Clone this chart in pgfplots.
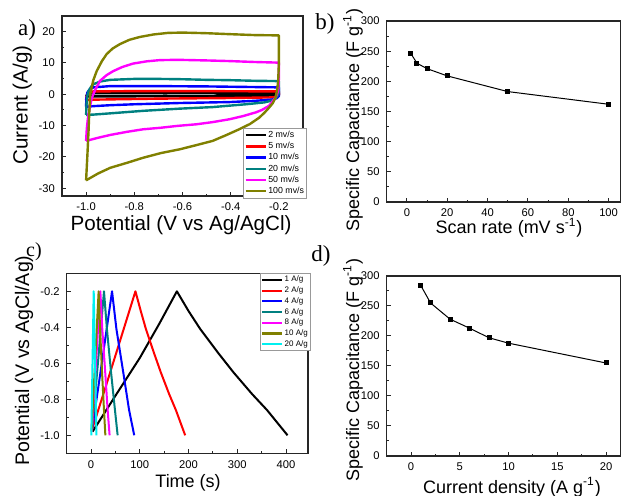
\documentclass[border=0pt]{standalone}
\usepackage{fontspec}
\setmainfont{Liberation Sans}
\newfontfamily\panelfont{Liberation Serif}
\usepackage{pgfplots}
\pgfplotsset{compat=1.18}

\definecolor{cvmag}{RGB}{255,0,255}
\definecolor{cvcyan}{RGB}{0,240,240}
\definecolor{cvteal}{RGB}{0,128,128}
\definecolor{cvolive}{RGB}{128,128,0}
\definecolor{cvred}{RGB}{255,0,0}
\definecolor{cvblue}{RGB}{0,0,255}

\pgfplotsset{
  panel/.style={
    scale only axis,
    axis line style={line width=0.6pt, black!85},
    tick align=inside,
    xtick pos=bottom, ytick pos=left,
    major tick length=2.2pt, minor tick length=1.2pt,
    every tick/.style={black!85, line width=0.5pt},
    minor x tick num=1, minor y tick num=1,
    ticklabel style={font=\fontsize{5.6}{6}\selectfont},
    /pgf/number format/assume math mode=true,
    label style={font=\fontsize{9}{10}\selectfont},
  },
  cap/.style={black, line width=0.5pt, mark=square*, mark size=1pt},
}

\begin{document}
\begin{tikzpicture}
\path[use as bounding box] (0,0) rectangle (310.5pt,248pt);

% ---------- a) CV curves
\begin{axis}[panel,
    at={(31pt,150pt)}, anchor=south west,
    width=120.5pt, height=90pt,
    xmin=-1.1, xmax=-0.1, ymin=-32.5, ymax=25,
    xtick={-1.0,-0.8,-0.6,-0.4,-0.2},
    ytick={-30,-20,-10,0,10,20},
    xticklabel style={/pgf/number format/.cd, fixed, fixed zerofill, precision=1},
    label style={font=\fontsize{10.3}{11}\selectfont},
    xlabel={Potential (V vs Ag/AgCl)},
    ylabel={Current (A/g)},
    xlabel style={at={(axis description cs:0.494,-0.16)}, anchor=center},
    ylabel style={at={(axis description cs:-0.165,0.506)}, anchor=center},
    legend style={at={(axis description cs:0.752,0.376)}, anchor=north west,
      font=\fontsize{4.4}{5}\selectfont, draw=black!40, line width=0.3pt,
      inner sep=0.5pt, row sep=0pt,
      nodes={text height=3.2pt, text depth=1pt, inner sep=0.7pt}},
    legend cell align=left,
    legend image code/.code={\draw[#1, line width=1.2pt] (0pt,0pt) -- (10pt,0pt);},
    every axis plot/.append style={line width=1.2pt, line join=round},
]
\addplot[black] coordinates {
(-1.0,-0.7) (-0.995,0) (-0.98,0.3) (-0.6,0.4) (-0.2,0.35) (-0.2,-0.2) (-0.23,-0.45)
(-0.6,-0.6) (-0.95,-0.7) (-1.0,-0.7)};
\addplot[cvred] coordinates {
(-1.0,-1.8) (-0.998,-0.5) (-0.99,0.5) (-0.97,0.9) (-0.8,1.0) (-0.5,1.0) (-0.2,0.9)
(-0.2,-0.3) (-0.22,-1.0) (-0.4,-1.2) (-0.7,-1.4) (-0.95,-1.7) (-1.0,-1.8)};
\addplot[cvblue] coordinates {
(-1.0,-4) (-0.999,-1.5) (-0.995,0.5) (-0.985,1.6) (-0.97,2.2) (-0.9,2.6) (-0.7,2.6)
(-0.5,2.5) (-0.3,2.3) (-0.2,2.2) (-0.2,-0.6) (-0.21,-1.3) (-0.228,-1.7) (-0.3,-2.1)
(-0.406,-2.5) (-0.612,-2.8) (-0.8,-3.2) (-0.9,-3.5) (-0.97,-3.8) (-1.0,-4)};
\addplot[cvteal] coordinates {
(-1.0,-6.6) (-0.998,-3) (-0.995,-0.5) (-0.99,1) (-0.98,2.3) (-0.97,3.2) (-0.94,4.1)
(-0.9,4.6) (-0.8,4.9) (-0.7,4.9) (-0.6,4.8) (-0.5,4.6) (-0.406,4.5) (-0.3,4.3)
(-0.2,4.2) (-0.2,0.5) (-0.21,-1) (-0.228,-2) (-0.26,-2.6) (-0.337,-3.2) (-0.475,-4.1)
(-0.612,-4.6) (-0.764,-5.3) (-0.9,-6.1) (-0.97,-6.5) (-1.0,-6.6)};
\addplot[cvmag] coordinates {
(-1.0,-14.9) (-0.997,-11) (-0.993,-8) (-0.99,-6.4) (-0.983,-3.5) (-0.976,-1.1)
(-0.96,1.8) (-0.942,4.3) (-0.915,6.1) (-0.887,7.4) (-0.85,8.7) (-0.805,9.8)
(-0.75,10.5) (-0.695,10.9) (-0.62,11.0) (-0.5,10.8) (-0.406,10.6) (-0.3,10.3)
(-0.2,10.1) (-0.2,5) (-0.203,1.1) (-0.214,-1.1) (-0.241,-3.7) (-0.27,-5) (-0.296,-5.8)
(-0.35,-7) (-0.406,-8) (-0.475,-8.9) (-0.543,-9.6) (-0.62,-10.1) (-0.69,-10.7)
(-0.764,-11.2) (-0.83,-12) (-0.9,-13) (-0.95,-13.9) (-1.0,-14.9)};
\addplot[cvolive] coordinates {
(-1.0,-27.5) (-0.995,-20) (-0.99,-12) (-0.987,-6) (-0.983,0) (-0.97,4.5) (-0.956,7.4)
(-0.935,10.5) (-0.915,12.8) (-0.89,14.6) (-0.86,16) (-0.82,17.4) (-0.777,18.3)
(-0.72,19.1) (-0.66,19.6) (-0.6,19.7) (-0.5,19.5) (-0.406,19.2) (-0.3,18.9) (-0.2,18.8)
(-0.2,10) (-0.203,4.3) (-0.207,1.5) (-0.214,-1.1) (-0.225,-2.8) (-0.241,-4.3)
(-0.26,-5.9) (-0.282,-7.5) (-0.32,-9.5) (-0.365,-11.2) (-0.42,-13.1) (-0.475,-14.9)
(-0.54,-16.2) (-0.612,-17.6) (-0.69,-18.8) (-0.764,-20.3) (-0.83,-21.9) (-0.9,-23.5)
(-0.95,-25.3) (-1.0,-27.5)};
\legend{2 mv/s, 5 mv/s, 10 mv/s, 20 mv/s, 50 mv/s, 100 mv/s}
\end{axis}

% ---------- b) capacitance vs scan rate
\begin{axis}[panel,
    at={(193.35pt,147pt)}, anchor=south west,
    width=117pt, height=90.5pt,
    xmin=-10, xmax=106, ymin=0, ymax=300,
    xtick={0,20,40,60,80,100},
    ytick={0,50,100,150,200,250,300},
    xlabel={Scan rate (mV s\textsuperscript{-1})},
    ylabel={Specific Capacitance (F g\textsuperscript{-1})},
    xlabel style={at={(axis description cs:0.523,-0.143)}, anchor=center},
    ylabel style={at={(axis description cs:-0.144,0.453)}, anchor=center},
]
\addplot[cap] coordinates {
(2,246) (5,230) (10,221) (20,209) (50,183) (100,162)};
\end{axis}

% ---------- c) charge-discharge
\begin{axis}[panel,
    at={(33.35pt,21.35pt)}, anchor=south west,
    width=120.65pt, height=90pt,
    xmin=-50, xmax=445, ymin=-1.1, ymax=-0.1,
    xtick={0,100,200,300,400},
    ytick={-1.0,-0.8,-0.6,-0.4,-0.2},
    yticklabel style={/pgf/number format/.cd, fixed, fixed zerofill, precision=1},
    xlabel={Time (s)},
    ylabel={Potential (V vs AgCl/Ag)},
    xlabel style={at={(axis description cs:0.503,-0.165)}, anchor=center},
    ylabel style={at={(axis description cs:-0.177,0.515)}, anchor=center,
      font=\fontsize{9.8}{10.5}\selectfont},
    legend style={at={(axis description cs:0.8,1.0)}, anchor=north west,
      font=\fontsize{4}{4.5}\selectfont, draw=black!40, line width=0.3pt,
      inner sep=0.5pt, row sep=0pt,
      nodes={text height=3pt, text depth=0.95pt, inner sep=0.7pt}},
    legend cell align=left,
    legend image code/.code={\draw[#1, line width=1.1pt] (0pt,0pt) -- (10pt,0pt);},
    every axis plot/.append style={line width=1pt, line join=round},
]
\addplot[black] coordinates {
(3,-0.98) (50,-0.78) (100,-0.57) (140,-0.38) (176,-0.2) (200,-0.31) (224,-0.41)
(260,-0.54) (292,-0.65) (330,-0.77) (361,-0.86) (403,-1.0)};
\addplot[cvred] coordinates {
(3,-0.96) (30,-0.73) (60,-0.47) (91,-0.2) (102,-0.31) (112.5,-0.41) (128.7,-0.54)
(143,-0.65) (160,-0.77) (174,-0.86) (193,-1.0)};
\addplot[cvblue] coordinates {
(2,-0.97) (22,-0.6) (43,-0.2) (52,-0.41) (66,-0.65) (78,-0.86) (88.5,-1.0)};
\addplot[cvteal] coordinates {
(2,-0.97) (14,-0.6) (26.5,-0.2) (32.5,-0.41) (41,-0.65) (49,-0.86) (54.5,-1.0)};
\addplot[cvmag] coordinates {
(1.5,-0.98) (19,-0.2) (23,-0.41) (29,-0.65) (34,-0.86) (38,-1.0)};
\addplot[cvolive] coordinates {
(1,-0.98) (15.5,-0.2) (18.5,-0.41) (22.5,-0.65) (26.5,-0.86) (29.3,-1.0)};
\addplot[cvcyan] coordinates {
(0.5,-1.0) (5.4,-0.2) (11,-1.0)};
\legend{1 A/g, 2 A/g, 4 A/g, 6 A/g, 8 A/g, 10 A/g, 20 A/g}
\end{axis}

% ---------- d) capacitance vs current density
\begin{axis}[panel,
    at={(193.35pt,20pt)}, anchor=south west,
    width=117pt, height=90pt,
    xmin=-2.5, xmax=21.5, ymin=0, ymax=300,
    xtick={0,5,10,15,20},
    ytick={0,50,100,150,200,250,300},
    xlabel={Current density (A g\textsuperscript{-1})},
    ylabel={Specific Capacitance (F g\textsuperscript{-1})},
    xlabel style={at={(axis description cs:0.535,-0.175)}, anchor=center},
    ylabel style={at={(axis description cs:-0.144,0.478)}, anchor=center},
]
\addplot[cap] coordinates {
(1,284) (2,255) (4,228) (6,213) (8,197) (10,188) (20,155)};
\end{axis}

\node[font=\panelfont\fontsize{11.5}{12}\selectfont] at (13.5pt,233pt) {a)};
\node[font=\panelfont\fontsize{11.5}{12}\selectfont] at (162.5pt,236pt) {b)};
\node[font=\panelfont\fontsize{10}{11}\selectfont] at (17pt,122pt) {c)};
\node[font=\panelfont\fontsize{11.5}{12}\selectfont] at (160.5pt,120pt) {d)};
\end{tikzpicture}
\end{document}
